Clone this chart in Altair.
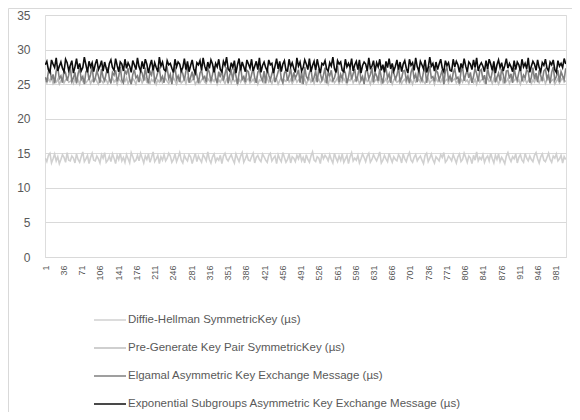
import altair as alt
import pandas as pd

series_names = [
    "Diffie-Hellman SymmetricKey (µs)",
    "Pre-Generate Key Pair SymmetricKey (µs)",
    "Elgamal Asymmetric Key Exchange Message (µs)",
    "Exponential Subgroups Asymmetric Key Exchange Message (µs)",
]
series_colors = ["#d0d0d0", "#bfbfbf", "#7f7f7f", "#0d0d0d"]

x_tick_labels = [1, 36, 71, 106, 141, 176, 211, 246, 281, 316, 351, 386, 421, 456, 491,
                 526, 561, 596, 631, 666, 701, 736, 771, 806, 841, 876, 911, 946, 981]
y_tick_labels = [0, 5, 10, 15, 20, 25, 30, 35]

# values read for every 3rd run (runs 1, 4, 7, ... 1000)
dh_values = [float(v) for v in """
14.3 13.8 14.7 15.0 13.6 14.2 14.9 13.9 14.5 13.5 14.1 14.8 14.4 13.7 15.1 14.0 13.9 14.6 14.3 13.6
14.9 14.1 13.7 14.5 15.2 13.8 14.2 14.7 13.5 14.4 15.0 14.0 13.9 14.6 14.2 13.6 14.8 14.3 15.1 13.7
14.0 14.6 13.8 14.9 14.3 13.5 14.7 14.1 15.0 13.9 14.4 13.7 14.8 14.2 13.6 15.1 14.5 13.8 14.0 14.7
13.9 15.0 14.3 13.6 14.6 14.1 14.9 13.7 14.4 15.2 13.8 14.2 14.7 13.5 14.5 14.0 14.8 13.9 14.3 15.0
14.6 13.7 14.1 14.9 13.8 14.4 15.1 14.0 13.6 14.7 14.2 13.9 14.8 14.5 13.5 14.3 15.0 13.8 14.6 14.1
13.7 14.8 14.4 13.9 15.2 14.1 13.6 14.5 14.9 13.8 14.3 14.0 14.7 13.5 14.6 15.0 14.2 13.9 14.4 14.8
14.1 13.6 14.9 14.3 13.8 14.6 15.1 13.7 14.2 14.8 14.0 13.9 14.5 15.0 13.6 14.4 14.7 14.1 13.8 14.9
14.5 14.0 13.7 14.7 15.0 13.9 14.3 14.6 13.5 14.8 14.2 13.8 15.1 14.4 13.7 14.1 14.9 13.6 14.5 14.3
13.8 14.7 14.2 15.0 13.9 14.4 13.6 14.8 14.1 13.7 14.6 15.2 14.0 13.8 14.5 14.3 13.5 14.9 14.2 14.7
14.4 13.9 14.8 14.1 13.6 15.0 14.3 13.8 14.6 14.0 14.9 13.7 14.2 14.7 13.5 14.5 15.1 13.9 14.3 14.0
14.7 13.6 14.2 14.9 14.4 13.8 14.6 15.0 13.7 14.1 14.8 14.3 13.9 14.5 15.2 13.6 14.0 14.7 14.2 13.8
15.0 14.3 13.7 14.5 14.1 13.9 14.8 14.4 13.6 14.9 14.2 13.8 14.6 15.1 14.0 13.7 14.4 14.8 13.9 14.3
14.6 14.0 13.5 14.7 15.0 13.8 14.3 14.9 14.1 13.6 14.5 14.2 13.9 14.8 14.4 15.1 13.7 14.0 14.6 14.3
13.9 14.8 14.2 13.6 14.5 14.9 13.8 14.1 15.0 14.4 13.7 14.6 14.3 13.5 14.7 14.0 15.2 13.9 14.4 14.1
14.8 13.7 14.3 14.6 13.9 15.0 14.2 13.6 14.7 14.1 14.9 13.8 14.4 14.0 13.5 14.6 15.1 14.3 13.8 14.5
14.2 14.9 13.6 14.4 14.8 14.0 13.7 15.0 14.3 13.9 14.6 14.1 13.8 14.7 15.1 14.2 13.6 14.5 14.9 14.0
13.8 14.4 15.0 14.1 13.7 14.6 14.3 14.9 13.9 14.2 14.7 13.6 14.5 14.1
""".split()]

pg_values = [float(v) for v in """
25.5 25.2 25.8 25.4 25.9 25.1 25.6 25.3 25.7 25.0 25.5 25.8 25.2 25.6 25.9 25.3 25.4 25.7 25.1 25.8
25.3 25.6 25.0 25.9 25.4 25.7 25.2 25.5 25.8 25.1 25.6 25.3 25.9 25.4 25.0 25.7 25.5 25.2 25.8 25.6
25.1 25.7 25.4 25.9 25.3 25.6 25.0 25.8 25.5 25.2 25.7 25.4 25.9 25.1 25.6 25.3 25.8 25.5 25.0 25.7
25.4 25.8 25.2 25.6 25.9 25.3 25.5 25.1 25.7 25.4 25.8 25.0 25.6 25.3 25.9 25.2 25.5 25.8 25.4 25.1
25.7 25.3 25.9 25.5 25.0 25.6 25.8 25.2 25.4 25.7 25.1 25.9 25.5 25.3 25.6 25.8 25.0 25.4 25.7 25.2
25.6 25.9 25.3 25.1 25.8 25.5 25.2 25.7 25.4 25.9 25.0 25.6 25.3 25.8 25.5 25.1 25.7 25.4 25.9 25.2
25.8 25.4 25.6 25.0 25.7 25.3 25.9 25.5 25.1 25.6 25.8 25.2 25.4 25.7 25.3 25.9 25.0 25.6 25.5 25.8
25.2 25.5 25.9 25.3 25.6 25.1 25.8 25.4 25.7 25.0 25.5 25.9 25.2 25.6 25.4 25.8 25.3 25.7 25.1 25.5
25.9 25.3 25.6 25.8 25.2 25.4 25.7 25.0 25.5 25.9 25.3 25.6 25.1 25.8 25.4 25.7 25.2 25.5 25.9 25.3
25.6 25.0 25.8 25.4 25.7 25.2 25.5 25.9 25.1 25.6 25.3 25.8 25.4 25.0 25.7 25.5 25.9 25.2 25.6 25.4
25.8 25.1 25.5 25.7 25.3 25.9 25.4 25.6 25.0 25.8 25.2 25.5 25.7 25.3 25.9 25.1 25.6 25.4 25.8 25.2
25.5 25.7 25.0 25.6 25.9 25.3 25.4 25.8 25.1 25.5 25.7 25.2 25.9 25.4 25.6 25.0 25.8 25.3 25.5 25.7
25.3 25.9 25.4 25.1 25.6 25.8 25.2 25.5 25.7 25.0 25.9 25.4 25.6 25.3 25.8 25.1 25.5 25.7 25.2 25.9
25.4 25.6 25.8 25.2 25.5 25.0 25.7 25.3 25.9 25.4 25.6 25.1 25.8 25.5 25.2 25.7 25.0 25.9 25.3 25.6
25.7 25.2 25.5 25.9 25.4 25.6 25.1 25.8 25.3 25.7 25.0 25.5 25.9 25.2 25.6 25.4 25.8 25.1 25.7 25.3
25.5 25.8 25.3 25.6 25.0 25.9 25.4 25.7 25.2 25.5 25.8 25.1 25.6 25.3 25.9 25.5 25.2 25.7 25.4 25.8
25.1 25.6 25.9 25.3 25.5 25.7 25.0 25.4 25.8 25.2 25.6 25.9 25.3 25.5
""".split()]

eg_values = [float(v) for v in """
26.0 25.3 26.8 27.2 25.6 26.4 25.1 26.9 27.4 25.8 26.2 25.2 27.0 26.6 25.5 26.3 27.5 25.4 25.9 26.7
25.1 26.5 27.3 25.7 26.1 25.0 26.8 27.1 25.6 26.4 27.6 25.3 25.9 26.9 26.2 25.2 27.2 26.0 25.5 26.6
27.4 25.8 25.1 26.7 26.3 27.0 25.4 26.1 27.5 25.6 25.2 26.9 26.5 27.3 25.7 25.0 26.4 27.1 25.9 26.2
25.3 27.0 26.6 25.5 27.4 26.0 25.1 26.8 26.3 27.6 25.4 25.9 26.7 27.2 25.6 26.1 25.2 26.9 27.3 25.8
26.4 25.0 26.7 27.5 25.7 26.2 25.3 27.1 26.5 25.5 26.9 27.4 25.2 26.0 26.8 25.6 27.2 26.3 25.1 26.6
27.0 25.8 26.1 25.3 27.3 26.7 25.4 26.4 27.6 25.9 25.2 26.8 26.0 27.1 25.5 26.5 27.4 25.1 26.3 26.9
25.6 27.2 26.2 25.0 26.6 27.5 25.7 26.1 25.3 27.0 26.8 25.4 26.4 27.3 25.9 25.2 26.7 27.1 26.0 25.5
26.9 25.1 27.4 26.3 25.6 26.5 27.2 25.3 26.0 26.8 27.6 25.8 25.2 26.6 27.0 25.5 26.2 27.3 25.4 26.7
25.9 26.4 27.1 25.2 26.8 25.0 27.5 26.1 25.7 26.6 27.3 25.4 26.0 26.9 25.3 27.2 26.5 25.6 26.3 27.4
25.1 26.7 26.2 27.0 25.5 25.9 26.8 27.6 25.3 26.4 25.8 27.1 26.6 25.2 26.0 27.3 25.7 26.5 27.2 25.4
26.3 27.5 25.6 26.1 25.0 26.9 27.0 25.8 26.4 27.4 25.3 26.7 26.2 25.5 27.2 26.0 25.1 26.8 27.3 25.9
26.5 25.2 27.1 26.6 25.7 26.3 27.5 25.4 25.9 26.9 27.0 25.6 26.2 25.1 26.7 27.4 25.8 26.4 25.3 27.2
26.0 25.5 26.8 27.3 25.2 26.5 27.6 25.9 26.1 25.4 27.0 26.7 25.6 26.3 27.1 25.0 26.9 27.4 25.7 26.2
25.3 26.6 27.2 25.8 26.0 25.1 26.8 27.5 25.5 26.4 27.0 25.9 26.7 25.2 26.1 27.3 26.5 25.4 26.9 27.1
25.6 26.3 25.0 27.4 26.2 25.7 26.8 27.6 25.3 26.0 26.6 25.5 27.2 26.4 25.1 26.9 27.0 25.8 26.5 25.2
27.3 26.1 25.6 26.7 27.5 25.4 26.3 25.9 27.1 26.8 25.2 26.0 27.4 25.7 26.6 25.3 27.0 26.2 25.5 26.9
27.2 25.8 26.4 25.1 26.7 27.5 25.6 26.1 27.0 25.3 26.8 26.2 25.7 27.3
""".split()]

ex_values = [float(v) for v in """
27.8 28.3 27.1 26.7 28.5 27.9 27.4 28.8 26.9 27.6 28.2 27.3 26.8 28.6 28.1 27.0 27.7 28.4 26.6 27.5
28.7 27.2 28.0 26.9 27.4 28.9 27.8 26.7 28.3 27.5 28.1 26.8 27.9 28.6 27.1 27.6 28.4 26.9 28.2 27.3
26.6 28.0 28.5 27.4 27.0 28.7 27.7 26.8 28.2 27.9 26.9 28.6 27.3 28.1 27.6 26.7 28.4 27.8 27.1 28.8
27.5 26.9 28.3 27.2 28.6 27.9 26.6 27.7 28.5 27.0 28.1 27.4 26.8 28.9 27.6 28.2 27.1 26.9 28.4 27.8
28.0 27.3 26.7 28.6 27.5 28.2 27.9 26.9 27.4 28.7 27.1 28.3 26.8 27.7 28.5 27.2 26.6 28.1 27.8 28.4
27.0 28.8 27.6 26.9 28.2 27.3 28.5 27.9 26.7 28.0 27.5 28.6 27.1 26.8 28.3 27.7 28.9 27.2 26.9 28.1
27.4 28.4 26.6 27.8 28.7 27.0 28.2 27.5 26.8 28.5 27.9 27.3 28.6 26.9 27.6 28.3 27.1 28.8 26.7 27.7
28.2 27.4 26.9 28.5 27.8 28.0 26.6 27.6 28.7 27.2 28.3 26.8 27.9 28.4 27.0 26.9 28.6 27.5 28.1 27.3
26.7 28.8 27.6 28.2 26.9 27.4 28.5 27.9 27.1 28.7 26.8 27.7 28.3 27.0 28.6 27.5 26.6 28.0 27.8 28.4
27.2 26.9 28.1 27.6 28.9 27.3 26.7 28.4 27.9 28.2 27.0 26.8 28.6 27.5 28.0 27.4 28.7 26.9 27.8 28.3
27.1 28.5 26.6 27.7 28.2 27.9 26.9 28.8 27.3 27.6 28.4 26.8 28.1 27.5 28.6 27.0 27.8 26.7 28.3 27.4
28.7 27.2 28.0 26.9 27.6 28.5 27.1 28.2 26.8 27.9 28.4 27.3 26.6 28.6 27.7 28.1 27.0 28.8 27.5 26.9
28.3 27.8 27.2 28.5 26.7 27.4 28.9 27.6 28.0 26.9 28.2 27.1 27.9 28.6 27.3 26.8 28.4 27.7 28.1 27.0
26.9 28.6 27.5 28.3 27.8 26.7 28.0 27.3 28.7 27.6 26.8 28.2 27.9 27.1 28.5 27.4 28.8 26.9 27.7 28.1
27.6 26.8 28.4 27.2 28.6 27.9 27.0 28.3 26.6 27.8 28.5 27.4 28.1 26.9 27.7 28.7 27.3 28.0 27.5 26.8
28.4 27.1 28.2 27.8 26.9 28.6 27.5 28.0 27.2 28.8 26.7 27.6 28.3 27.9 27.0 28.5 27.4 26.8 28.1 27.7
28.6 27.3 26.9 28.2 27.8 28.5 27.1 26.7 28.4 27.6 28.0 27.4 28.7 27.9
""".split()]

all_values = [dh_values, pg_values, eg_values, ex_values]
rows = []
for name, vals in zip(series_names, all_values):
    for i, v in enumerate(vals):
        rows.append({"run": 1 + 3 * i, "value": v, "series": name})
df = pd.DataFrame(rows)

FONT = "Liberation Sans"
W, H = 521, 242

color = alt.Color(
    "series:N",
    scale=alt.Scale(domain=series_names, range=series_colors),
    legend=alt.Legend(
        title=None, orient="none", legendX=48, legendY=288,
        symbolType="stroke", symbolSize=1024, symbolStrokeWidth=1.5,
        labelFont=FONT, labelFontSize=11.5, labelColor="#595959",
        labelLimit=600, labelOffset=1, rowPadding=5, padding=0,
    ),
)

x_enc = alt.X(
    "run:Q",
    scale=alt.Scale(domain=[0.5, 1000.5], nice=False, zero=False),
    axis=alt.Axis(
        title=None, values=x_tick_labels, labelAngle=270, labelAlign="right",
        labelBaseline="middle", labelFontSize=9, labelColor="#595959", labelFont=FONT,
        labelPadding=8, ticks=False, grid=False, domainColor="#d9d9d9",
        labelOverlap=False, labelBound=False, labelFlush=False,
    ),
)
y_enc = alt.Y(
    "value:Q",
    scale=alt.Scale(domain=[0, 35], nice=False),
    axis=alt.Axis(
        title=None, values=y_tick_labels, labelFontSize=12, labelColor="#595959",
        labelFont=FONT, labelPadding=15, ticks=False, domain=False,
        gridColor="#d9d9d9", labelFlush=False,
    ),
)

layers = []
for name in series_names:
    layers.append(
        alt.Chart(df)
        .transform_filter(alt.datum.series == name)
        .mark_line(strokeWidth=1.6, clip=True)
        .encode(x=x_enc, y=y_enc, color=color)
    )

frame = alt.Chart(pd.DataFrame({"a": [0]})).mark_rect(
    fill=None, stroke="#d9d9d9", strokeWidth=1
).encode(
    x=alt.value(-36.5), x2=alt.value(700), y=alt.value(-6.5), y2=alt.value(600)
)

chart = alt.layer(frame, *layers).properties(
    width=W, height=H,
    autosize=alt.AutoSizeParams(type="none"),
    padding={"left": 37, "top": 7, "right": 6, "bottom": 155},
).configure_view(
    stroke="#8c8c8c", strokeWidth=1
).configure(background="white")

chart.save("out.html", embed_options={"renderer": "svg", "actions": False})
